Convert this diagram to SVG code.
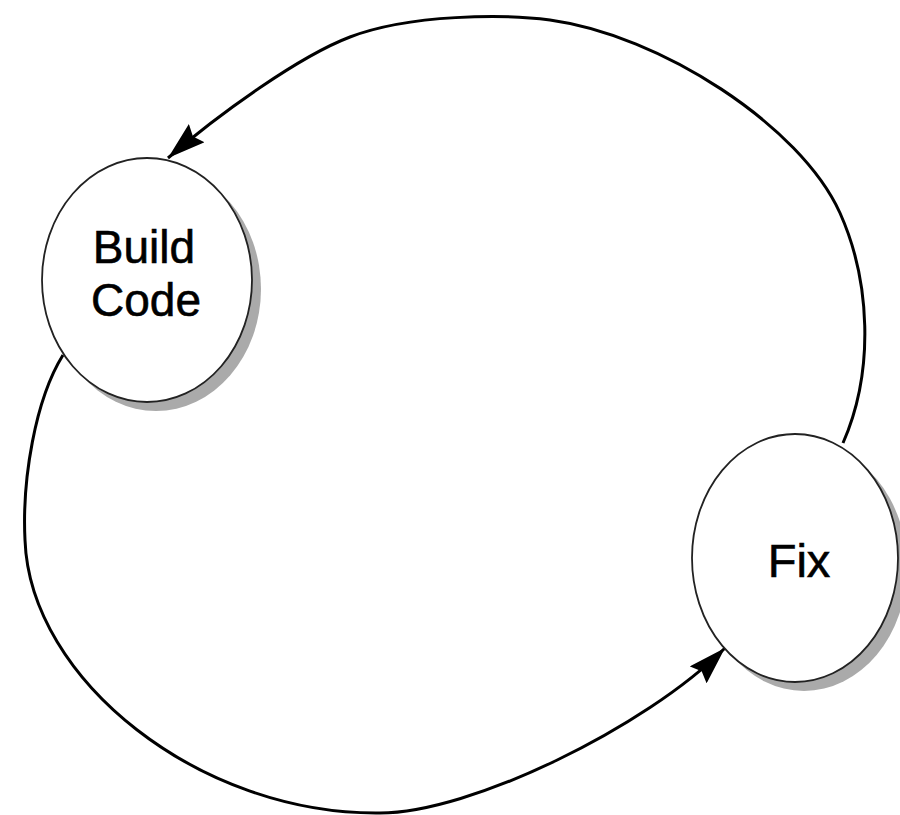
<svg xmlns="http://www.w3.org/2000/svg" width="900" height="815" viewBox="0 0 900 815">
<style>
.conn{fill:none;stroke:#000;stroke-width:3}
.shadow{fill:#aaa;stroke:none}
.node{fill:#fff;stroke:#222;stroke-width:1.8}
.lbl{font-family:"Liberation Sans",Arial,sans-serif;fill:#000;stroke:#000;stroke-width:0.6;text-anchor:middle}
</style>
<defs>
<marker id="arr" markerUnits="userSpaceOnUse" markerWidth="40" markerHeight="24" refX="38" refY="12" orient="auto">
<path d="M0,0 L38,12 L0,24 L5,12 z" fill="#000"/>
</marker>
</defs>
<rect width="900" height="815" fill="#fff"/>
<g id="connectors">
<path class="conn" marker-end="url(#arr)" d="M843,443 C875,370 870,280 840,213 C800,125 660,35 550,20 C505,14 410,14 350,37 C300,56 220,113 168,158"/>
<path class="conn" marker-end="url(#arr)" d="M63,355 C35,400 22,480 25,540 C30,680 200,815 380,813 C470,813 645,728 725,648"/>
</g>
<g id="build-code">
<ellipse class="shadow" cx="156" cy="289" rx="105" ry="122"/>
<ellipse class="node" cx="147" cy="280" rx="105" ry="122"/>
<text class="lbl" x="144" y="263" font-size="46">Build</text>
<text class="lbl" x="146" y="316" font-size="46">Code</text>
</g>
<g id="fix">
<ellipse class="shadow" cx="804" cy="567" rx="103" ry="124"/>
<ellipse class="node" cx="795" cy="558" rx="103" ry="124"/>
<text class="lbl" x="799" y="577" font-size="47">Fix</text>
</g>
</svg>
